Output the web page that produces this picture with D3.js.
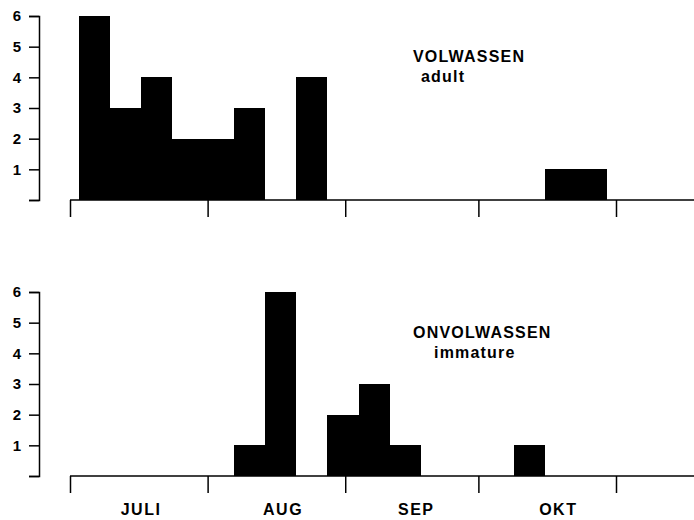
<!DOCTYPE html>
<meta charset="utf-8">
<script src="https://cdn.jsdelivr.net/npm/d3@7"></script>
<style>
body { margin: 0; background: #fff; }
text { font-family: "Liberation Sans", Arial, sans-serif; fill: #000; }
.tick line, .axisline { stroke: #000; stroke-width: 1.5px; }
rect { shape-rendering: crispEdges; }
</style>
<body>
<script>

// weekly bins (start date of each week)
var weeks = ["1980-07-03","1980-07-10","1980-07-17","1980-07-24","1980-07-31",
             "1980-08-07","1980-08-14","1980-08-21","1980-08-28",
             "1980-09-04","1980-09-11","1980-09-18","1980-09-25",
             "1980-10-02","1980-10-09","1980-10-16","1980-10-23"];

var adult    = [6,3,4,2,2,3,0,4,0,0,0,0,0,0,0,1,1];
var immature = [0,0,0,0,0,1,6,0,2,3,1,0,0,0,1,0,0];

var monthStarts = ["1980-07-01","1980-08-01","1980-09-01","1980-10-01","1980-11-01"];
var monthNames  = ["JULI","AUG","SEP","OKT"];
var monthLabelAt = ["1980-07-17","1980-08-18","1980-09-17","1980-10-19"];

var yTicks = [0,1,2,3,4,5,6];

var width = 694, height = 520;
var parse = d3.timeParse("%Y-%m-%d");

var svg = d3.select("body").append("svg")
    .attr("width", width)
    .attr("height", height);

var x = d3.scaleTime()
    .domain([parse(monthStarts[0]), parse(monthStarts[4])])
    .range([70, 616]);

function panel(counts, top, base, title, sub) {
  var y = d3.scaleLinear().domain([0, 6]).range([base, top]);
  var g = svg.append("g");

  var data = weeks.map(function(w, i) {
    var s = parse(w);
    return {start: s, end: d3.timeDay.offset(s, 7), value: counts[i]};
  }).filter(function(d) { return d.value > 0; });

  g.selectAll("rect")
    .data(data)
    .enter().append("rect")
    .attr("x", function(d) { return x(d.start); })
    .attr("width", function(d) { return x(d.end) - x(d.start); })
    .attr("y", function(d) { return y(d.value); })
    .attr("height", function(d) { return y(0) - y(d.value); })
    .attr("fill", "#000");

  // y axis
  var ya = g.append("g")
    .attr("transform", "translate(39,0)")
    .call(d3.axisLeft(y).tickValues(yTicks).tickSize(10).tickPadding(8)
      .tickFormat(function(d) { return d === 0 ? "" : d; }));
  ya.select(".domain").attr("stroke", "#000").attr("stroke-width", 1.5);
  ya.selectAll("text")
    .style("font-size", "15px")
    .style("font-weight", "bold")
    .style("font-family", "'Liberation Sans', Arial, sans-serif");

  // x axis: baseline + month ticks
  g.append("line")
    .attr("class", "axisline")
    .attr("x1", x(parse(monthStarts[0])))
    .attr("x2", width)
    .attr("y1", base)
    .attr("y2", base);

  var xa = g.append("g")
    .attr("transform", "translate(0," + base + ")")
    .call(d3.axisBottom(x).tickValues(monthStarts.map(parse)).tickSize(17).tickFormat(""));
  xa.select(".domain").remove();

  g.append("text")
    .attr("x", 413)
    .attr("y", top + 46)
    .style("font-size", "16px")
    .style("font-weight", "bold")
    .style("letter-spacing", "1.2px")
    .text(title);
  g.append("text")
    .attr("x", sub.dx)
    .attr("y", top + 66)
    .style("font-size", "16px")
    .style("font-weight", "bold")
    .style("letter-spacing", "1.2px")
    .text(sub.text);
}

panel(adult, 16, 200, "VOLWASSEN", {text: "adult", dx: 421});
panel(immature, 292, 476, "ONVOLWASSEN", {text: "immature", dx: 434});

svg.selectAll(".month")
  .data(monthNames)
  .enter().append("text")
  .attr("class", "month")
  .attr("text-anchor", "middle")
  .attr("x", function(d, i) { return x(parse(monthLabelAt[i])); })
  .attr("y", 515)
  .style("font-size", "16px")
  .style("font-weight", "bold")
  .style("letter-spacing", "1.5px")
  .text(function(d) { return d; });

</script>
</body>
